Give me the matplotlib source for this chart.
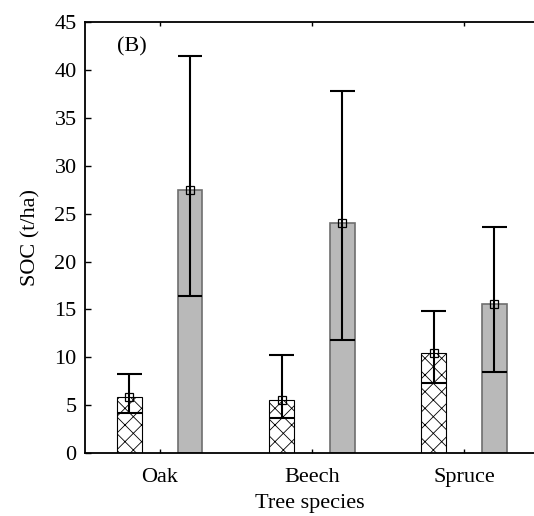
import numpy as np
import matplotlib.pyplot as plt

plt.rcParams["font.family"] = ["Liberation Serif", "DejaVu Serif"]
plt.rcParams["hatch.linewidth"] = 0.6

# Data
species = ["Oak", "Beech", "Spruce"]
hatched_mean = [5.9, 5.5, 10.45]
hatched_low = [4.2, 3.7, 7.35]
hatched_high = [8.25, 10.2, 14.85]
grey_mean = [27.5, 24.0, 15.55]
grey_low = [16.45, 11.8, 8.5]
grey_high = [41.5, 37.85, 23.6]

x = np.arange(1, len(species) + 1)
offset = 0.2
width = 0.16

fig = plt.figure(figsize=(5.34, 5.16), dpi=100)
ax = fig.add_axes([0.159, 0.122, 0.841, 0.835])


def draw_group(pos, mean, low, high, **bar_kw):
    ax.bar(pos, mean, width=width, zorder=2, **bar_kw)
    # error bars: lower line spans the bar, upper cap
    ax.vlines(pos, low, high, color="black", lw=1.5, zorder=3)
    ax.hlines(low, pos - width / 2, pos + width / 2, color="black", lw=1.5, zorder=3)
    ax.hlines(high, pos - width / 2, pos + width / 2, color="black", lw=1.5, zorder=3)
    ax.plot(pos, mean, ls="none", marker="s", ms=6, mfc="none", mec="black",
            mew=0.9, zorder=4)


draw_group(x - offset, hatched_mean, hatched_low, hatched_high,
           color="white", edgecolor="black", hatch="xx", linewidth=0.8)
draw_group(x + offset, grey_mean, grey_low, grey_high,
           color="#b9b9b9", edgecolor="#6e6e6e", linewidth=1.2)

ax.set_xlim(0.507, 3.46)
ax.set_ylim(0, 45)
ax.set_yticks(np.arange(0, 46, 5))
ax.set_xticks(x)
ax.set_xticklabels(species)
ax.spines["right"].set_visible(False)
for s in ["left", "bottom", "top"]:
    ax.spines[s].set_linewidth(1.3)
ax.tick_params(axis="both", direction="in", labelsize=16, length=4, width=1)
ax.tick_params(axis="x", top=True, pad=11, length=3)
ax.tick_params(axis="y", right=False, pad=6)

ax.text(0.72, 42.4, "(B)", fontsize=16, ha="left", va="center")
ax.set_xlabel("Tree species", fontsize=16, labelpad=5)
ax.set_ylabel("SOC (t/ha)", fontsize=16, labelpad=10)

fig.savefig("out.png", dpi=100)
